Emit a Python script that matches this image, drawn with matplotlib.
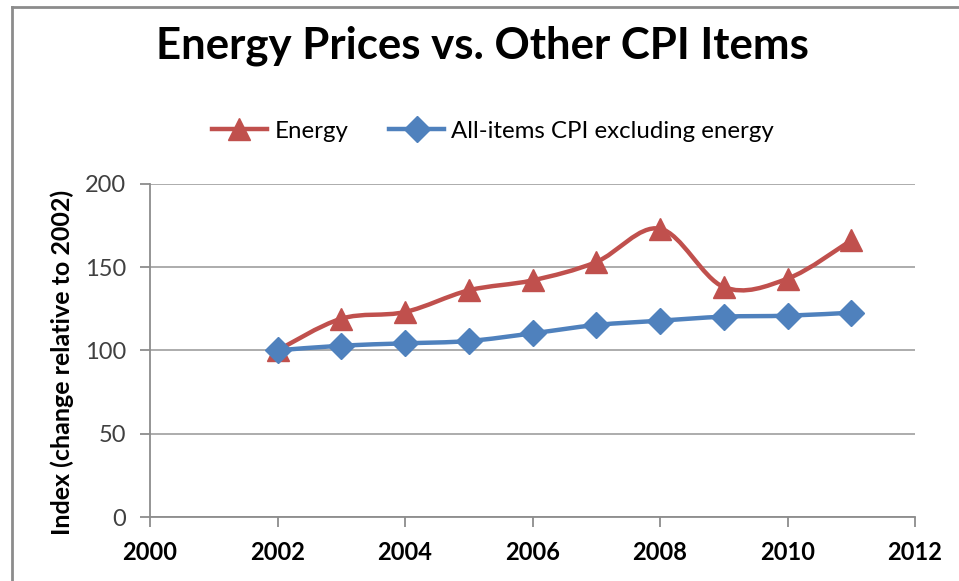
import matplotlib
matplotlib.use("Agg")
import matplotlib.pyplot as plt
from matplotlib.path import Path
from matplotlib.patches import PathPatch
from matplotlib.lines import Line2D

years = [2002, 2003, 2004, 2005, 2006, 2007, 2008, 2009, 2010, 2011]
energy = [100, 119, 123, 136, 142, 153, 173, 138, 143, 166]
cpi_ex_energy = [100, 102.8, 104.2, 105.6, 110.2, 115.2, 117.8, 120.2, 120.8, 122.6]

x_ticks = [2000, 2002, 2004, 2006, 2008, 2010, 2012]
y_ticks = [0, 50, 100, 150, 200]

RED = "#C0504D"
BLUE = "#4F81BD"
GRID = "#A6A6A6"

plt.rcParams["font.family"] = ["Lato", "DejaVu Sans"]


def smooth_path(xs, ys):
    """Excel-style smoothed line: Catmull-Rom segments as cubic Bezier curves."""
    pts = list(zip(xs, ys))
    verts = [pts[0]]
    codes = [Path.MOVETO]
    n = len(pts)
    for i in range(n - 1):
        p0 = pts[i - 1] if i > 0 else pts[i]
        p1 = pts[i]
        p2 = pts[i + 1]
        p3 = pts[i + 2] if i + 2 < n else pts[i + 1]
        c1 = (p1[0] + (p2[0] - p0[0]) / 6, p1[1] + (p2[1] - p0[1]) / 6)
        c2 = (p2[0] - (p3[0] - p1[0]) / 6, p2[1] - (p3[1] - p1[1]) / 6)
        verts += [c1, c2, p2]
        codes += [Path.CURVE4] * 3
    return Path(verts, codes)


fig = plt.figure(figsize=(9.59, 5.81), dpi=100)
ax = fig.add_axes([150 / 959, 1 - 517 / 581, (915 - 150) / 959, (517 - 183.7) / 581])

for ys, color, marker in [(energy, RED, "^"), (cpi_ex_energy, BLUE, "D")]:
    ax.add_patch(PathPatch(smooth_path(years, ys), fill=False, edgecolor=color,
                           linewidth=3.2, capstyle="round", joinstyle="round", zorder=3))
    ax.plot(years, ys, linestyle="none", marker=marker, color=color,
            markersize=16 if marker == "^" else 13, zorder=4, clip_on=False)

ax.set_xlim(2000, 2012)
ax.set_ylim(0, 200)
ax.set_xticks(x_ticks)
ax.set_yticks(y_ticks)
ax.grid(axis="y", color=GRID, linewidth=1.3)
ax.set_axisbelow(True)
for side in ["top", "right"]:
    ax.spines[side].set_visible(False)
for side in ["left", "bottom"]:
    ax.spines[side].set_color("#8C8C8C")
    ax.spines[side].set_linewidth(1.3)
ax.tick_params(axis="both", direction="out", length=7, width=1.3, color="#8C8C8C")
ax.tick_params(axis="y", labelsize=17, labelcolor="#404040", pad=10)
ax.tick_params(axis="x", labelsize=17, labelcolor="black", pad=10)
for lbl in ax.get_xticklabels():
    lbl.set_fontweight("bold")

ax.set_ylabel("Index (change relative to 2002)", fontsize=18, fontweight="bold")
ax.yaxis.set_label_coords(-76 / 765, 0.465)

fig.text(482 / 959, 1 - 46 / 581, "Energy Prices vs. Other CPI Items",
         ha="center", va="center", fontsize=31.5, fontweight="bold")

handles = [
    Line2D([], [], color=RED, linewidth=3.2, marker="^", markersize=16),
    Line2D([], [], color=BLUE, linewidth=3.2, marker="D", markersize=13),
]
fig.legend(handles, ["Energy", "All-items CPI excluding energy"],
           loc="center", bbox_to_anchor=(493 / 959, 1 - 131 / 581), ncol=2,
           frameon=False, fontsize=17.3, handlelength=2.3, handletextpad=0.3,
           columnspacing=1.7)

# chart-area border (only left and top visible in the crop)
fig.add_artist(Line2D([11.5 / 959, 11.5 / 959], [0, 1 - 6.5 / 581],
                      transform=fig.transFigure, color="#8C8C8C", linewidth=2))
fig.add_artist(Line2D([11.5 / 959, 1], [1 - 6.5 / 581, 1 - 6.5 / 581],
                      transform=fig.transFigure, color="#8C8C8C", linewidth=2))

fig.savefig("out.png", dpi=100)
